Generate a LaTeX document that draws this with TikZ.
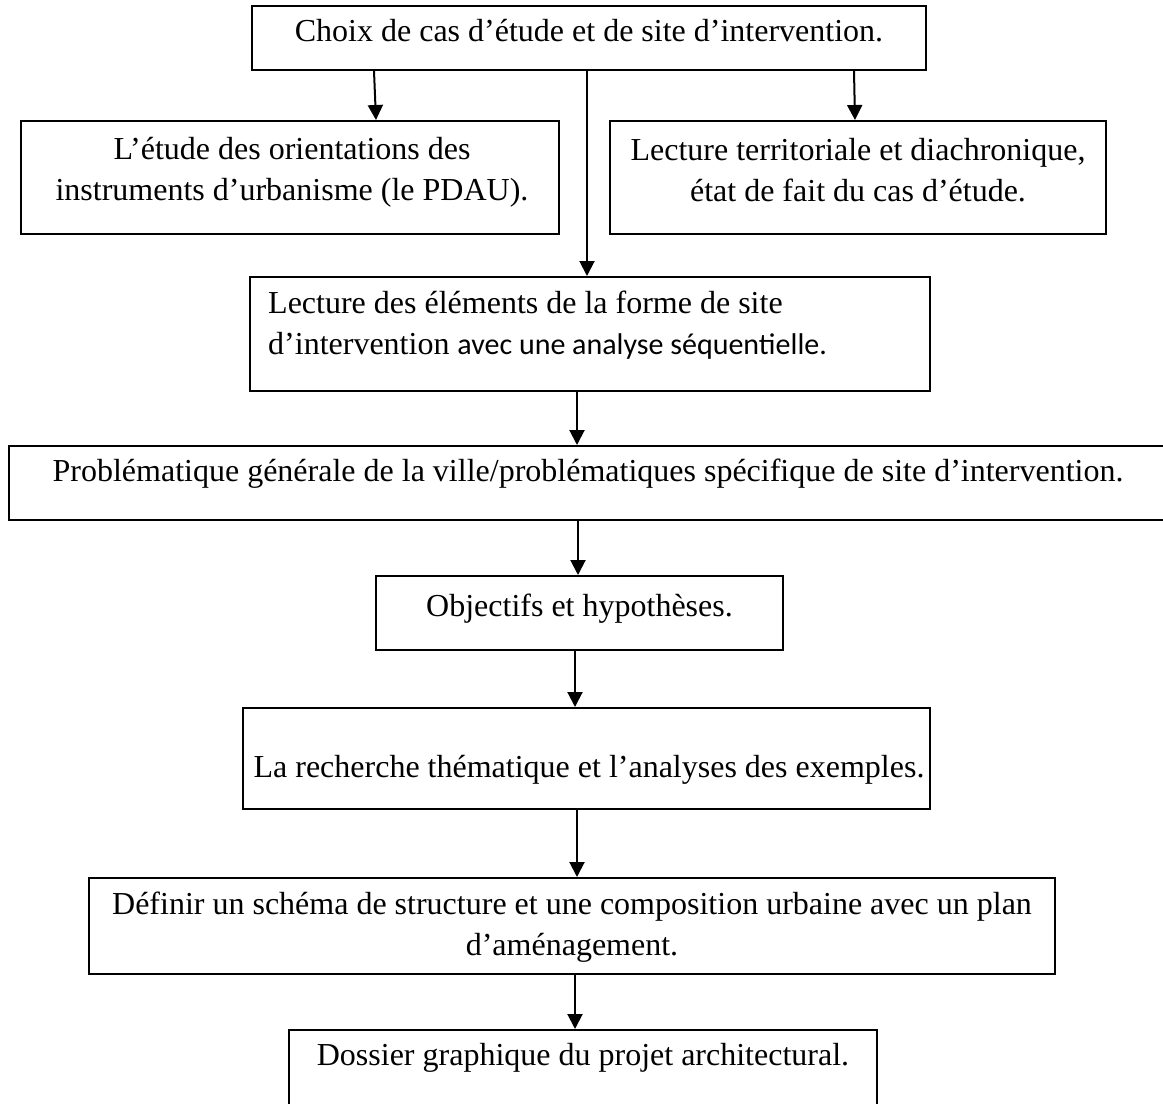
\documentclass[tikz,border=0pt]{standalone}
\usepackage{fontspec}
\setmainfont{Liberation Serif}
\newfontfamily\calfont{Carlito}
\usetikzlibrary{arrows.meta}
\begin{document}
\begin{tikzpicture}[x=1pt,y=-1pt,
  box/.style={draw, line width=2pt, inner sep=0pt},
  txt/.style={inner sep=0pt, font=\fontsize{32}{41}\selectfont, align=center},
  arr/.style={line width=2pt, -{Triangle[width=15pt,length=15pt]}}]
\useasboundingbox (0,0) rectangle (1163,1104);
\clip (0,0) rectangle (1163,1104);
\fill[white] (0,0) rectangle (1163,1104);
% boxes
\node[box, minimum width=674pt, minimum height=64pt] (b1) at (589,38) {};
\node[box, minimum width=538pt, minimum height=113pt] (b2) at (290,177.5) {};
\node[box, minimum width=496pt, minimum height=113pt] (b3) at (858,177.5) {};
\node[box, minimum width=680pt, minimum height=114pt] (b4) at (590,334) {};
\node[box, minimum width=1171pt, minimum height=74pt] (b5) at (594.5,483) {};
\node[box, minimum width=407pt, minimum height=74pt] (b6) at (579.5,613) {};
\node[box, minimum width=687pt, minimum height=101pt] (b7) at (586.5,758.5) {};
\node[box, minimum width=966pt, minimum height=96pt] (b8) at (572,926) {};
\node[box, minimum width=588pt, minimum height=100pt] (b9) at (583,1080) {};
% texts
\node[txt] (t1) at (589,31) {Choix de cas d’étude et de site d’intervention.};
\node[txt] (t2) at (292,172) {L’étude des orientations des\\instruments d’urbanisme (le PDAU).};
\node[txt] (t3) at (858,170) {Lecture territoriale et diachronique,\\état de fait du cas d’étude.};
\node[txt, align=left, anchor=west] (t4) at (268,325) {Lecture des éléments de la forme de site\\d’intervention {\calfont\fontsize{30}{41}\selectfont avec une analyse séquentielle.}};
\node[txt] (t5) at (588,474) {Problématique générale de la ville/problématiques spécifique de site d’intervention.};
\node[txt] (t6) at (579.5,609) {Objectifs et hypothèses.};
\node[txt] (t7) at (589,770) {La recherche thématique et l’analyses des exemples.};
\node[txt] (t8) at (572,927) {Définir un schéma de structure et une composition urbaine avec un plan\\d’aménagement.};
\node[txt] (t9) at (583,1058) {Dossier graphique du projet architectural.};
% connectors
\draw[arr] (b1.south -| 374,0) -- (b2.north -| 376,0);
\draw[arr] (b1.south -| 854,0) -- (b3.north -| 855,0);
\draw[arr] (b1.south -| 587,0) -- (b4.north -| 587,0);
\draw[arr] (b4.south -| 577,0) -- (b5.north -| 577,0);
\draw[arr] (b5.south -| 578,0) -- (b6.north -| 578,0);
\draw[arr] (b6.south -| 575,0) -- (b7.north -| 575,0);
\draw[arr] (b7.south -| 577,0) -- (b8.north -| 577,0);
\draw[arr] (b8.south -| 575,0) -- (b9.north -| 575,0);
\end{tikzpicture}
\end{document}
